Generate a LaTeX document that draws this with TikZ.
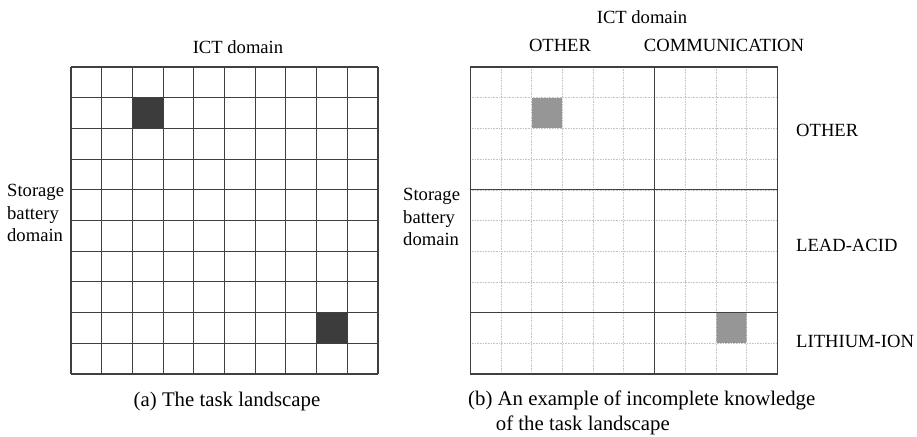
\documentclass[tikz,border=0pt]{standalone}
\usepackage{fontspec}
\setmainfont{Liberation Serif}
\definecolor{cellgrey}{HTML}{3C3C3C}
\definecolor{knowngrey}{HTML}{969696}
\definecolor{gridgrey}{HTML}{404040}
\tikzset{
  lbl/.style={inner sep=0pt,font=\fontsize{18.6}{22.5}\selectfont},
  captext/.style={inner sep=0pt,font=\fontsize{20.8}{25}\selectfont},
  fine/.style={gray!45,densely dotted,line width=.6pt},
  solid line/.style={gridgrey,line width=1.1pt}
}
\begin{document}
\begin{tikzpicture}[x=1pt,y=-1pt]
\useasboundingbox (0,0) rectangle (917,436);
% (a) full landscape
\fill[cellgrey] (132.4,97.7) rectangle (163.1,128.4);
\fill[cellgrey] (316.6,312.6) rectangle (347.3,343.3);
\foreach \i in {0,...,10} {
  \draw[solid line] (71+30.7*\i,67) -- (71+30.7*\i,374);
  \draw[solid line] (71,67+30.7*\i) -- (378,67+30.7*\i);
}
\node[lbl] (ictA) at (238,47) {ICT domain};
\node[lbl,anchor=west,align=left] (batA) at (7,213) {Storage\\battery\\domain};
\node[captext] (capA) at (227,401) {(a) The task landscape};
% (b) partial knowledge
\fill[knowngrey] (531.6,97.7) rectangle (562.3,128.4);
\fill[knowngrey] (715.8,312.6) rectangle (746.5,343.3);
\foreach \i in {1,...,9} {
  \draw[fine] (470.2+30.7*\i,67) -- (470.2+30.7*\i,374);
  \draw[fine] (470.2,67+30.7*\i) -- (777.2,67+30.7*\i);
}
\draw[solid line] (470.2,67) rectangle (777.2,374);
\draw[solid line] (654.4,67) -- (654.4,374);
\draw[solid line] (470.2,189.8) -- (777.2,189.8);
\draw[solid line] (470.2,312.6) -- (777.2,312.6);
\node[lbl] (ictB) at (642,17) {ICT domain};
\node[lbl] (colOther) at (560,45) {OTHER};
\node[lbl] (colComm) at (724,45) {COMMUNICATION};
\node[lbl,anchor=west] (rowOther) at (796,130) {OTHER};
\node[lbl,anchor=west] (rowLead) at (796,245) {LEAD-ACID};
\node[lbl,anchor=west] (rowLith) at (796,341) {LITHIUM-ION};
\node[lbl,anchor=west,align=left] (batB) at (403,217) {Storage\\battery\\domain};
\node[captext,anchor=west,align=left] (capB) at (468,413)
  {(b) An example of incomplete knowledge\\\hphantom{(b)\,}of the task landscape};
\end{tikzpicture}
\end{document}
